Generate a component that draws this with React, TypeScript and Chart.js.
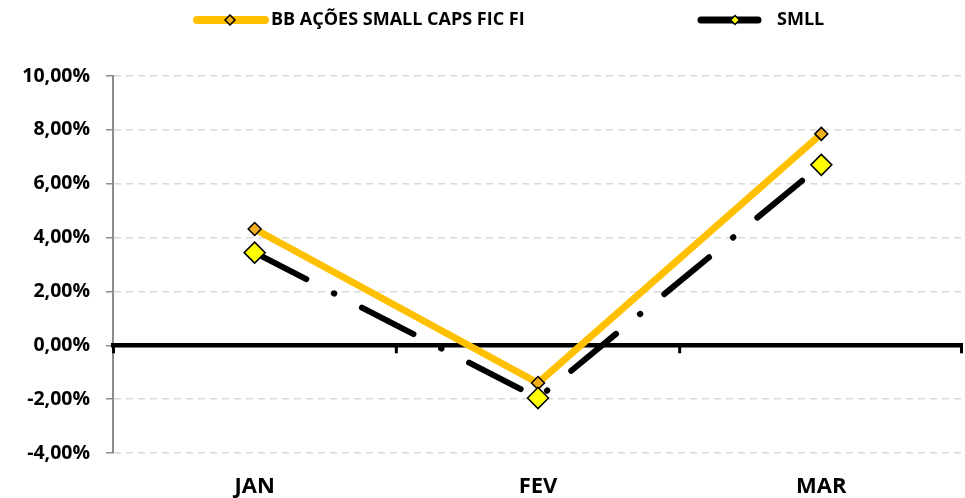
import React, { useEffect, useRef } from "react";
import { Chart, registerables } from "chart.js";

Chart.register(...registerables);

const categories = ["JAN", "FEV", "MAR"];
const fundLabel = "BB AÇÕES SMALL CAPS FIC FI";
const smllLabel = "SMLL";
const fundValues = [4.32, -1.4, 7.85];
const smllValues = [3.44, -1.96, 6.7];
const yMin = -4;
const yMax = 10;
const yStep = 2;

const FONT = "'Open Sans', sans-serif";
const ORANGE = "#FFC000";
const ORANGE_MARK = "#F2AE1C";
const YELLOW = "#FFFF00";

const fmt = (v: number) => v.toFixed(2).replace(".", ",") + "%";

function diamond(ctx: CanvasRenderingContext2D, x: number, y: number, r: number, fill: string) {
  ctx.beginPath();
  ctx.moveTo(x, y - r);
  ctx.lineTo(x + r, y);
  ctx.lineTo(x, y + r);
  ctx.lineTo(x - r, y);
  ctx.closePath();
  ctx.fillStyle = fill;
  ctx.fill();
  ctx.lineWidth = 1.5;
  ctx.strokeStyle = "#000";
  ctx.stroke();
}

const zeroLinePlugin = {
  id: "zeroLine",
  beforeDatasetsDraw(chart: any) {
    const { ctx, chartArea, scales } = chart;
    const y = scales.y.getPixelForValue(0);
    ctx.save();
    ctx.strokeStyle = "#000";
    ctx.lineWidth = 4.5;
    ctx.beginPath();
    ctx.moveTo(chartArea.left - 2, y);
    ctx.lineTo(chartArea.right, y);
    ctx.stroke();
    const n = categories.length;
    const step = (chartArea.right - chartArea.left) / n;
    ctx.lineWidth = 3;
    for (let i = 0; i <= n; i++) {
      let x = chartArea.left + step * i;
      if (i === 0) x += 0.5;
      if (i === n) x -= 1.5;
      ctx.beginPath();
      ctx.moveTo(x, y);
      ctx.lineTo(x, y + 8);
      ctx.stroke();
    }
    ctx.restore();
  },
};

const legendPlugin = {
  id: "customLegend",
  afterDraw(chart: any) {
    const { ctx } = chart;
    ctx.save();
    const y = 20;
    ctx.lineCap = "round";
    ctx.strokeStyle = ORANGE;
    ctx.lineWidth = 8;
    ctx.beginPath();
    ctx.moveTo(197, y);
    ctx.lineTo(265, y);
    ctx.stroke();
    diamond(ctx, 230, y, 5, ORANGE_MARK);
    ctx.fillStyle = "#000";
    ctx.font = `bold 18px ${FONT}`;
    ctx.textBaseline = "middle";
    ctx.textAlign = "left";
    ctx.fillText(fundLabel, 271, y);
    ctx.strokeStyle = "#000";
    ctx.lineWidth = 7;
    ctx.beginPath();
    ctx.moveTo(701, y);
    ctx.lineTo(758, y);
    ctx.stroke();
    diamond(ctx, 735, y, 4.5, YELLOW);
    ctx.fillStyle = "#000";
    ctx.fillText(smllLabel, 777, y);
    ctx.restore();
  },
};

export default function App() {
  const ref = useRef<HTMLCanvasElement>(null);
  useEffect(() => {
    if (!ref.current) return;
    const chart = new Chart(ref.current, {
      type: "line",
      data: {
        labels: categories,
        datasets: [
          {
            label: smllLabel,
            data: smllValues,
            borderColor: "#000",
            borderWidth: 6,
            borderDash: [58, 31, 0.5, 31],
            borderCapStyle: "round",
            pointRadius: 0,
            tension: 0,
            order: 3,
          },
          {
            label: fundLabel,
            data: fundValues,
            borderColor: ORANGE,
            borderWidth: 7,
            pointStyle: "rectRot",
            pointRadius: 6.5,
            pointBackgroundColor: ORANGE_MARK,
            pointBorderColor: "#000",
            pointBorderWidth: 1.5,
            tension: 0,
            order: 2,
          },
          {
            label: smllLabel + " ",
            data: smllValues,
            showLine: false,
            pointStyle: "rectRot",
            pointRadius: 10.5,
            pointBackgroundColor: YELLOW,
            pointBorderColor: "#000",
            pointBorderWidth: 1.5,
            order: 1,
          },
        ],
      },
      options: {
        animation: false,
        responsive: false,
        events: [],
        layout: { autoPadding: false, padding: { top: 76, right: 2, left: 0, bottom: 0 } },
        plugins: { legend: { display: false }, tooltip: { enabled: false } },
        scales: {
          x: {
            offset: true,
            grid: { display: false, drawTicks: false },
            border: { display: false },
            ticks: {
              color: "#000",
              font: { family: FONT, size: 22, weight: "bold" },
              padding: 21,
            },
            afterFit: (s: any) => {
              s.height = 45;
              s.paddingLeft = 0;
              s.paddingRight = 0;
            },
          },
          y: {
            min: yMin,
            max: yMax,
            ticks: {
              stepSize: yStep,
              color: "#000",
              font: { family: FONT, size: 19.5, weight: "bold" },
              padding: 16,
              callback: (v: any) => fmt(Number(v)),
            },
            grid: {
              color: "#D9D9D9",
              lineWidth: 1.5,
              tickLength: 7,
              tickColor: "#8C8C8C",
              tickWidth: 1.5,
              tickBorderDash: [],
            },
            border: { display: true, color: "#8C8C8C", width: 2, dash: [7, 5] },
            afterFit: (s: any) => {
              s.width = 113;
              s.paddingTop = 0;
              s.paddingBottom = 0;
            },
          },
        },
      },
      plugins: [zeroLinePlugin, legendPlugin],
    } as any);
    return () => chart.destroy();
  }, []);
  return (
    <div style={{ position: "absolute", left: 0, top: 0, width: 965, height: 498, background: "#fff" }}>
      <canvas ref={ref} width={965} height={498} style={{ display: "block" }} />
    </div>
  );
}
